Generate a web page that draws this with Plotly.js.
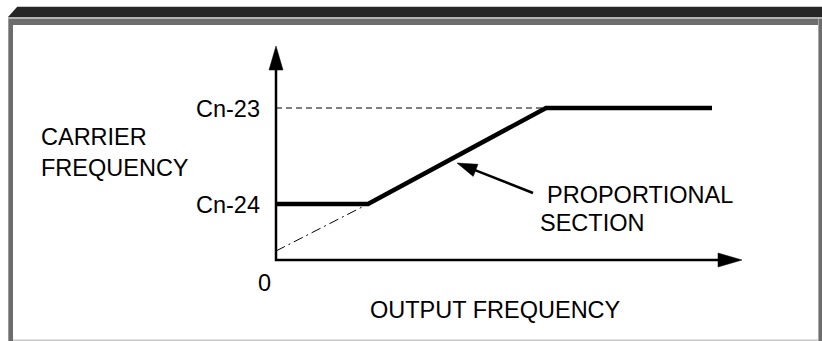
<!DOCTYPE html>
<html>
<head>
<meta charset="utf-8">
<script src="https://cdn.plot.ly/plotly-3.0.1.min.js"></script>
<style>html,body{margin:0;padding:0;background:#fff;}#chart{width:822px;height:341px;}</style>
</head>
<body>
<div id="chart"></div>
<script>
// ---- data (schematic units; origin of the graph = 0,0) ----
const outputFreq = [0, 92, 270, 436];          // output frequency breakpoints
const carrierFreq = [56, 56, 152, 152];        // carrier frequency at those points
const extrapX = [0, 92];                       // dash-dot extension of proportional section
const extrapY = [9, 56];
const guideX = [0, 270];                       // dashed Cn-23 guide
const guideY = [152, 152];
const axisXEnd = [466];                        // x-axis arrow tip
const axisYEnd = [214];                        // y-axis arrow tip
const levelVals = [56, 152];
const levelText = ['Cn-24', 'Cn-23'];
const pointerTip = [181, 97];
const pointerTail = [257, 67];

const W = 822, H = 341;
const xRange = [-276, 546];
const yRange = [-81, 260];
const kx = W / (xRange[1] - xRange[0]);
const ky = H / (yRange[1] - yRange[0]);

function head(tip, dirx, diry, len, wid) {
  const n = Math.hypot(dirx, diry); const ux = dirx / n, uy = diry / n;
  const bx = -ux * len, by = -uy * len;
  const px = -uy * wid / 2, py = ux * wid / 2;
  const pts = [[0, 0], [bx + px, by + py], [bx - px, by - py], [0, 0]];
  return { x: pts.map(p => tip[0] + p[0] / kx), y: pts.map(p => tip[1] + p[1] / ky) };
}

const black = '#000';
const traces = [];
traces.push({ x: guideX, y: guideY, mode: 'lines', line: { color: black, width: 1, dash: '6px,4px' }, hoverinfo: 'skip' });
traces.push({ x: extrapX, y: extrapY, mode: 'lines', line: { color: black, width: 1, dash: '10px,4px,2px,4px' }, hoverinfo: 'skip' });
const hx = 24, hw = 14;
traces.push({ x: [0, 0, axisXEnd[0] - hx / kx + 2], y: [axisYEnd[0] - hx / ky + 2, 0, 0], mode: 'lines', line: { color: black, width: 2.5 }, hoverinfo: 'skip' });
const hy = head([0, axisYEnd[0]], 0, 1, hx, hw);
traces.push({ x: hy.x, y: hy.y, mode: 'lines', fill: 'toself', fillcolor: black, line: { color: black, width: 0.5 }, hoverinfo: 'skip' });
const hxx = head([axisXEnd[0], 0], 1, 0, hx, hw);
traces.push({ x: hxx.x, y: hxx.y, mode: 'lines', fill: 'toself', fillcolor: black, line: { color: black, width: 0.5 }, hoverinfo: 'skip' });
traces.push({ x: outputFreq, y: carrierFreq, mode: 'lines', line: { color: black, width: 4.5 }, hoverinfo: 'skip' });
const pdx = (pointerTip[0] - pointerTail[0]) * kx, pdy = (pointerTip[1] - pointerTail[1]) * ky;
const pl = Math.hypot(pdx, pdy);
const plen = 20;
traces.push({ x: [pointerTail[0], pointerTip[0] - pdx / pl * (plen - 2) / kx], y: [pointerTail[1], pointerTip[1] - pdy / pl * (plen - 2) / ky], mode: 'lines', line: { color: black, width: 2.5 }, hoverinfo: 'skip' });
const ph = head(pointerTip, pdx, pdy, plen, 13);
traces.push({ x: ph.x, y: ph.y, mode: 'lines', fill: 'toself', fillcolor: black, line: { color: black, width: 0.5 }, hoverinfo: 'skip' });

const font = { family: 'Liberation Sans, Arial, sans-serif', size: 23.5, color: black };
const annotations = [];
levelVals.forEach((v, i) => annotations.push({ x: 0, y: v, xref: 'x', yref: 'y', text: levelText[i], showarrow: false, xanchor: 'right', yanchor: 'middle', xshift: -14, yshift: -1, font }));
annotations.push({ x: 0, y: 0, xref: 'x', yref: 'y', text: '0', showarrow: false, xanchor: 'center', yanchor: 'middle', xshift: -12, yshift: -23, font });
annotations.push({ x: -237, y: 108, xref: 'x', yref: 'y', text: 'CARRIER<br>FREQUENCY', showarrow: false, xanchor: 'left', yanchor: 'middle', align: 'left', font });
annotations.push({ x: 269, y: 65, xref: 'x', yref: 'y', text: 'PROPORTIONAL', showarrow: false, xanchor: 'left', yanchor: 'middle', font });
annotations.push({ x: 262, y: 37, xref: 'x', yref: 'y', text: 'SECTION', showarrow: false, xanchor: 'left', yanchor: 'middle', font });
annotations.push({ x: 219, y: -50, xref: 'x', yref: 'y', text: 'OUTPUT FREQUENCY', showarrow: false, xanchor: 'center', yanchor: 'middle', font });

const PX = x => x / W, PY = y => 1 - y / H;
function rect(x0, y0, x1, y1, c) { return { type: 'rect', xref: 'paper', yref: 'paper', x0: PX(x0), x1: PX(x1), y0: PY(y0), y1: PY(y1), fillcolor: c, line: { width: 0 }, layer: 'below' }; }
const shapes = [
  rect(17, 6, 822, 7, '#c8c8c8'),
  { type: 'path', xref: 'paper', yref: 'paper', path: `M ${PX(17)},${PY(7)} L ${PX(822)},${PY(7)} L ${PX(822)},${PY(17)} L ${PX(8)},${PY(17)} Z`, fillcolor: '#262626', line: { width: 0 }, layer: 'below' },
  rect(8, 17, 822, 19, '#b4b4b4'),
  rect(8, 19, 822, 25, '#6d6d6d'),
  rect(8, 19, 13, 341, '#6d6d6d'),
  rect(8, 19, 9, 341, '#9a9a9a'),
  rect(818, 19, 819, 341, '#a8a8a8'),
  rect(819, 19, 822, 341, '#6d6d6d'),
  rect(13, 339.5, 818, 341, '#c8c8c8')
];

const layout = {
  width: W, height: H,
  margin: { l: 0, r: 0, t: 0, b: 0 },
  paper_bgcolor: '#fff', plot_bgcolor: 'rgba(0,0,0,0)',
  showlegend: false,
  xaxis: { range: xRange, visible: false, fixedrange: true },
  yaxis: { range: yRange, visible: false, fixedrange: true },
  annotations, shapes
};
Plotly.newPlot('chart', traces, layout, { displayModeBar: false, staticPlot: true });
</script>
</body>
</html>
